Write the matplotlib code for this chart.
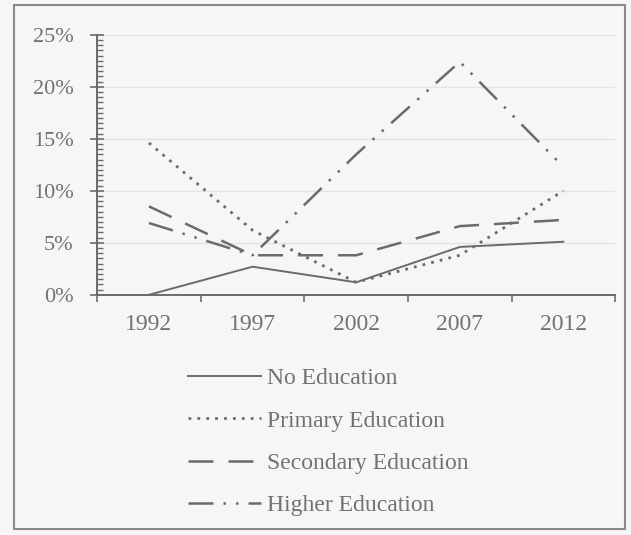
import matplotlib
matplotlib.use("Agg")
import matplotlib.pyplot as plt
from matplotlib.patches import Rectangle
from matplotlib.ticker import MultipleLocator, FuncFormatter

years = ["1992", "1997", "2002", "2007", "2012"]
no_edu = [0.0, 2.7, 1.2, 4.6, 5.1]
primary_edu = [14.6, 6.2, 1.2, 3.8, 10.0]
secondary_edu = [8.5, 3.8, 3.8, 6.6, 7.2]
higher_edu = [6.9, 3.8, 13.5, 22.4, 12.3]

labels = ["No Education", "Primary Education", "Secondary Education", "Higher Education"]
grey = "#6b6b6b"
txt = "#727272"

plt.rcParams["font.family"] = ["Liberation Serif", "DejaVu Serif"]

fig = plt.figure(figsize=(6.31, 5.35), dpi=100)
fig.patch.set_facecolor("#f6f6f6")
ax = fig.add_axes([0.154, 0.449, 0.821, 0.486])
ax.set_facecolor("#f6f6f6")

x = list(range(len(years)))
styles = [
    dict(linestyle="-", linewidth=1.4),
    dict(linestyle=(0, (1, 2.2)), linewidth=2.0),
    dict(linestyle=(0, (10, 6)), linewidth=1.8),
    dict(linestyle=(0, (10, 4, 1, 4, 1, 4)), linewidth=1.8),
]
handles = []
for vals, st, lab in zip([no_edu, primary_edu, secondary_edu, higher_edu], styles, labels):
    ln, = ax.plot(x, vals, color=grey, label=lab, **st)
    handles.append(ln)

ax.set_xlim(-0.5, len(years) - 0.5)
ax.set_ylim(0, 25)
ax.set_xticks([i - 0.5 for i in range(len(years) + 1)])
ax.set_xticklabels([])
ax.set_xticks(x, minor=True)
ax.set_xticklabels(years, minor=True)
ax.tick_params(axis="x", which="major", length=5, direction="out", color=grey, width=1.2)
ax.tick_params(axis="x", which="minor", length=0, pad=14, labelsize=17, labelcolor=txt)

ax.yaxis.set_major_locator(MultipleLocator(5))
ax.yaxis.set_minor_locator(MultipleLocator(0.5))
ax.yaxis.set_major_formatter(FuncFormatter(lambda v, p: f"{v:.0f}%"))
ax.tick_params(axis="y", which="major", length=10, direction="inout", color=grey, width=1.2,
               labelsize=16, labelcolor=txt, pad=12)
ax.tick_params(axis="y", which="minor", length=4, direction="in", color=grey, width=1.0)

ax.grid(axis="y", which="major", color="#e4e4e4", linewidth=1.0)
for s in ["top", "right"]:
    ax.spines[s].set_visible(False)
for s in ["left", "bottom"]:
    ax.spines[s].set_color(grey)
    ax.spines[s].set_linewidth(1.4)

leg = fig.legend(handles, labels, loc="upper left", bbox_to_anchor=(0.264, 0.352),
                 frameon=False, handlelength=3.1, handletextpad=0.25, labelspacing=0.88,
                 fontsize=17)
for t in leg.get_texts():
    t.set_color(txt)

fig.patches.append(Rectangle((0.022, 0.012), 0.968, 0.978, transform=fig.transFigure,
                             fill=False, edgecolor="#8a8a8a", linewidth=1.5))

fig.savefig("out.png", dpi=100, facecolor=fig.get_facecolor())
